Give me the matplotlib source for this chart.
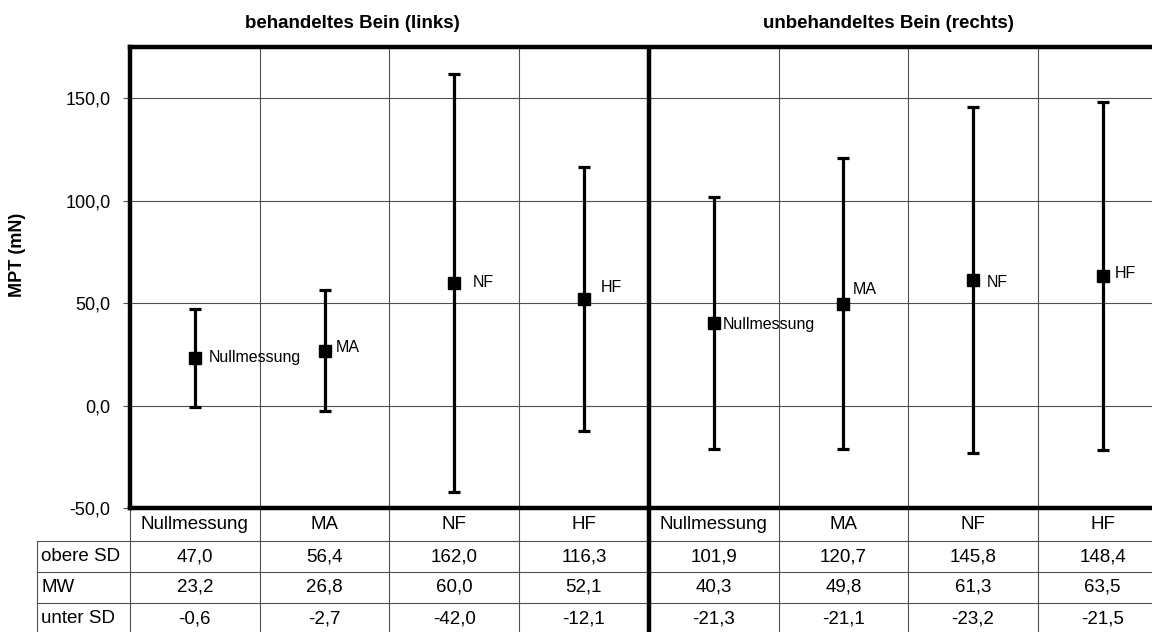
import matplotlib
matplotlib.use("Agg")
import matplotlib.pyplot as plt
from matplotlib.ticker import FuncFormatter

plt.rcParams['font.family'] = ['Liberation Sans', 'DejaVu Sans']

categories = ["Nullmessung", "MA", "NF", "HF", "Nullmessung", "MA", "NF", "HF"]
upper_sd = [47.0, 56.4, 162.0, 116.3, 101.9, 120.7, 145.8, 148.4]
mean_mw = [23.2, 26.8, 60.0, 52.1, 40.3, 49.8, 61.3, 63.5]
lower_sd = [-0.6, -2.7, -42.0, -12.1, -21.3, -21.1, -23.2, -21.5]
row_labels = ["obere SD", "MW", "unter SD"]
group_titles = ["behandeltes Bein (links)", "unbehandeltes Bein (rechts)"]
y_ticks = [-50, 0, 50, 100, 150]

# label offsets in pixels (dx, dy) - layout only
label_offsets = [(14, 1), (11, 3), (19, 0), (17, 11), (9, -1), (9, 14), (14, -2), (12, 2)]

W, H = 1152, 632
fig = plt.figure(figsize=(W / 100, H / 100), dpi=100)
ax_left, ax_right_px = 130, 130 + 8 * 129.7
ax_top, ax_bot = 47, 508.3
ax = fig.add_axes([ax_left / W, 1 - ax_bot / H, (ax_right_px - ax_left) / W, (ax_bot - ax_top) / H])

n = len(categories)
xs = list(range(n))
ax.set_xlim(-0.5, n - 0.5)
ax.set_ylim(-50, 175)

grid_c = '#505050'
# horizontal grid
for v in y_ticks[1:]:
    ax.axhline(v, color=grid_c, lw=0.8, zorder=1)

def ya(p):
    return (ax_bot - p) / (ax_bot - ax_top)

xt = ax.get_xaxis_transform()
table_bottom = 634
row_edges = [541, 572, 603, 634]

# vertical lines through plot and table
for b in [i + 0.5 for i in range(n - 1)]:
    if abs(b - 3.5) < 1e-9:
        ax.plot([b, b], [1, ya(table_bottom)], color='black', lw=3.2, transform=xt, clip_on=False, zorder=5, solid_capstyle='butt')
    else:
        ax.plot([b, b], [1, ya(table_bottom)], color=grid_c, lw=0.8, transform=xt, clip_on=False, zorder=1)
# left line in table
ax.plot([-0.5, -0.5], [0, ya(table_bottom)], color=grid_c, lw=0.8, transform=xt, clip_on=False, zorder=1)

# row label column
lab_x0 = -0.5 + (37 - 130) / 129.7
ax.plot([lab_x0, lab_x0], [ya(row_edges[0]), ya(table_bottom)], color=grid_c, lw=0.8, transform=xt, clip_on=False)
for e in row_edges[:-1]:
    ax.plot([lab_x0, n - 0.5], [ya(e), ya(e)], color=grid_c, lw=0.8, transform=xt, clip_on=False)

# header row
for x, c in zip(xs, categories):
    ax.text(x, ya(524.5), c, ha='center', va='center', fontsize=13.5, transform=xt, clip_on=False)

fmt = lambda v: f"{v:.1f}".replace('.', ',')
rows = [upper_sd, mean_mw, lower_sd]
for r, (lab, vals) in enumerate(zip(row_labels, rows)):
    yc = (row_edges[r] + row_edges[r + 1]) / 2
    ax.text(-0.5 + (41 - 130) / 129.7, ya(yc), lab, ha='left', va='center', fontsize=13.5, transform=xt, clip_on=False)
    for x, v in zip(xs, vals):
        ax.text(x, ya(yc), fmt(v), ha='center', va='center', fontsize=13.5, transform=xt, clip_on=False)

# error bars
yerr = [[m - l for m, l in zip(mean_mw, lower_sd)], [u - m for u, m in zip(upper_sd, mean_mw)]]
ax.errorbar(xs, mean_mw, yerr=yerr, fmt='s', color='black', ecolor='black', elinewidth=2.3,
            capsize=4, capthick=2.3, markersize=8.5, zorder=6)

for x, m, c, (dx, dy) in zip(xs, mean_mw, categories, label_offsets):
    ax.annotate(c, (x, m), xytext=(dx, dy), textcoords='offset pixels', ha='left', va='center',
                fontsize=11.5, zorder=7)

# spines
for s in ['left', 'top', 'bottom', 'right']:
    ax.spines[s].set_linewidth(3.2)
    ax.spines[s].set_color('black')
ax.set_xticks([])
ax.set_yticks(y_ticks)
ax.yaxis.set_major_formatter(FuncFormatter(lambda v, p: fmt(v)))
ax.tick_params(axis='y', length=5, width=0.8, color=grid_c, pad=9, labelsize=13)

fig.text(18 / W, 1 - 255 / H, 'MPT (mN)', rotation=90, fontweight='bold', fontsize=13, ha='center', va='center')
fig.text(352 / W, 1 - 24 / H, group_titles[0], fontweight='bold', fontsize=13.5, ha='center', va='center')
fig.text(888 / W, 1 - 24 / H, group_titles[1], fontweight='bold', fontsize=13.5, ha='center', va='center')

fig.savefig('out.png', dpi=100)
